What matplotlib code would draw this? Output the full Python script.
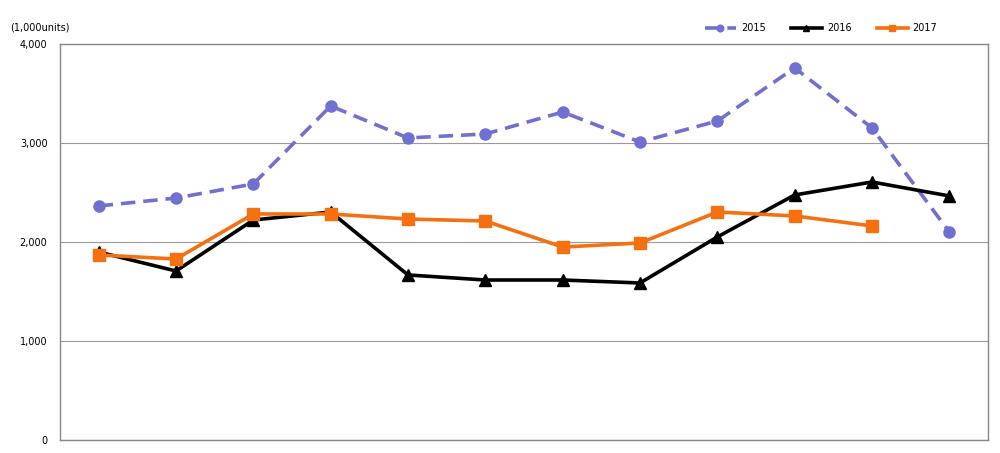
import matplotlib
matplotlib.use("Agg")
import matplotlib.pyplot as plt
from matplotlib.ticker import FuncFormatter

months = list(range(1, 13))
s2015 = [2364, 2444, 2586, 3374, 3051, 3091, 3313, 3010, 3222, 3758, 3152, 2101]
s2016 = [1899, 1707, 2222, 2303, 1667, 1616, 1616, 1586, 2051, 2475, 2606, 2465]
s2017 = [1869, 1828, 2283, 2283, 2232, 2212, 1949, 1990, 2303, 2263, 2162]
yticks = [0, 1000, 2000, 3000, 4000]

fig = plt.figure(figsize=(10, 4.53), dpi=100)
ax = fig.add_axes([0.06, 0.0287, 0.928, 0.8742])

ax.plot(months, s2015, color="#7070D0", lw=2.6, ls=(0, (4, 2.2)), marker="o", ms=8, label="2015")
ax.plot(months, s2016, color="black", lw=2.6, marker="^", ms=8, label="2016")
ax.plot(months[:len(s2017)], s2017, color="#F57010", lw=2.6, marker="s", ms=8, label="2017")

ax.set_xlim(0.5, 12.5)
ax.set_ylim(0, 4000)
ax.set_yticks(yticks)
ax.yaxis.set_major_formatter(FuncFormatter(lambda v, p: f"{int(v):,}"))
ax.set_xticks([])
ax.tick_params(axis="y", length=0, labelsize=7, pad=9)
ax.grid(axis="y", color="#999999", lw=0.8)
ax.set_axisbelow(True)
for sp in ax.spines.values():
    sp.set_color("#888888")
    sp.set_linewidth(1)

fig.text(0.010, 0.94, "(1,000units)", fontsize=7, ha="left", va="center")
ax.legend(loc="lower right", bbox_to_anchor=(0.955, 1.005), ncol=3, frameon=False,
          fontsize=7, handlelength=3.2, handletextpad=0.5, columnspacing=2.6, markerscale=0.6)

fig.savefig("out.png", dpi=100)
